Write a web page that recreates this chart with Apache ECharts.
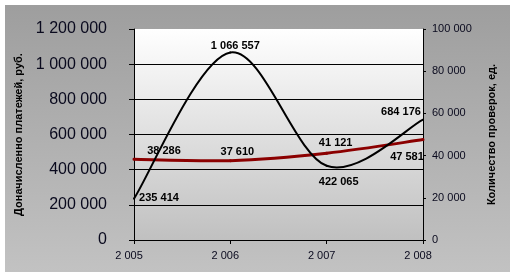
<!DOCTYPE html>
<html>
<head>
<meta charset="utf-8">
<script src="https://cdn.jsdelivr.net/npm/echarts@6/dist/echarts.min.js"></script>
<style>
html,body{margin:0;padding:0;background:#fff;}
#chart{width:517px;height:278px;}
</style>
</head>
<body>
<div id="chart"></div>
<script>
// ---- data ----
const years = ['2 005', '2 006', '2 007', '2 008'];
const accruedPayments = [235414, 1066557, 422065, 684176];
const inspectionsCount = [38286, 37610, 41121, 47581];
const leftAxisTitle = 'Доначисленно платежей, руб.';
const rightAxisTitle = 'Количество проверок, ед.';
const leftAxisRange = [0, 1200000, 200000];
const rightAxisRange = [0, 100000, 20000];

// ---- label placement (style) ----
const accruedLabelOffsets = [[25, -1], [5, -6], [12, 16], [-22, -8]];
const inspectionsLabelOffsets = [[30, -8], [7, -9], [9, -10], [-16, 17]];

function fmt(v) {
  return String(Math.round(v)).replace(/\B(?=(\d{3})+(?!\d))/g, ' ');
}

const FONT = '"Liberation Sans", Arial, sans-serif';
const chart = echarts.init(document.getElementById('chart'), null, {renderer: 'canvas'});

const labelBase = {
  show: true,
  position: 'inside',
  fontFamily: FONT,
  fontSize: 11,
  fontWeight: 'bold',
  color: '#000',
  formatter: p => fmt(p.value)
};

// Excel-style smoothed segment (Catmull-Rom, tension 1/6), through the axis scales
function smoothSegment(values, color, width) {
  return function (params, api) {
    const i = params.dataIndex;
    if (i >= values.length - 1) return null;
    const P = k => {
      const kk = Math.max(0, Math.min(values.length - 1, k));
      return api.coord([kk, values[kk]]);
    };
    const p0 = P(i - 1), p1 = P(i), p2 = P(i + 1), p3 = P(i + 2);
    return {
      type: 'bezierCurve',
      shape: {
        x1: p1[0], y1: p1[1],
        cpx1: p1[0] + (p2[0] - p0[0]) / 6, cpy1: p1[1] + (p2[1] - p0[1]) / 6,
        cpx2: p2[0] - (p3[0] - p1[0]) / 6, cpy2: p2[1] - (p3[1] - p1[1]) / 6,
        x2: p2[0], y2: p2[1]
      },
      style: {stroke: color, lineWidth: width, fill: null, lineCap: 'round'}
    };
  };
}

chart.setOption({
  animation: false,
  backgroundColor: '#fff',
  graphic: {
    elements: [{
      type: 'rect',
      z: -100,
      silent: true,
      shape: {x: 5, y: 5, width: 505, height: 267},
      style: {
        fill: new echarts.graphic.LinearGradient(0, 0, 0, 1, [
          {offset: 0, color: '#9e9e9e'},
          {offset: 1, color: '#c2c2c2'}
        ])
      }
    }]
  },
  grid: {
    left: 134, top: 29, right: 94, bottom: 38,
    show: true,
    borderWidth: 0,
    backgroundColor: new echarts.graphic.LinearGradient(0, 0, 0, 1, [
      {offset: 0, color: '#ffffff'},
      {offset: 1, color: '#c0c0c0'}
    ])
  },
  xAxis: {
    type: 'category',
    data: years,
    boundaryGap: false,
    axisLine: {lineStyle: {color: '#000', width: 1}},
    axisTick: {show: true, alignWithLabel: true, length: 4, lineStyle: {color: '#000'}},
    axisLabel: {fontFamily: FONT, fontSize: 11, color: '#0a0a1e', margin: 10, padding: [0, 10, 0, 0]},
    splitLine: {show: false}
  },
  yAxis: [{
    type: 'value',
    min: leftAxisRange[0], max: leftAxisRange[1], interval: leftAxisRange[2],
    name: leftAxisTitle,
    nameLocation: 'middle',
    nameRotate: 90,
    nameGap: 106,
    nameTextStyle: {fontFamily: FONT, fontSize: 11, fontWeight: 'bold', color: '#000'},
    axisLine: {show: true, lineStyle: {color: '#000', width: 1}},
    axisTick: {show: true, length: 5, lineStyle: {color: '#000'}},
    axisLabel: {fontFamily: FONT, fontSize: 16, color: '#0a0a1e', margin: 27, formatter: v => fmt(v)},
    splitLine: {show: true, lineStyle: {color: ['#000', '#000', '#000', '#000', '#000', '#000', 'transparent'], width: 1}}
  }, {
    type: 'value',
    position: 'right',
    min: rightAxisRange[0], max: rightAxisRange[1], interval: rightAxisRange[2],
    name: rightAxisTitle,
    nameLocation: 'middle',
    nameRotate: 90,
    nameGap: 63,
    nameTextStyle: {fontFamily: FONT, fontSize: 11, fontWeight: 'bold', color: '#000'},
    axisLine: {show: true, lineStyle: {color: '#000', width: 1}},
    axisTick: {show: true, length: 3, lineStyle: {color: '#000'}},
    axisLabel: {fontFamily: FONT, fontSize: 11, color: '#0a0a1e', margin: 9, formatter: v => fmt(v)},
    splitLine: {show: false}
  }],
  series: [{
    name: rightAxisTitle + ' curve',
    type: 'custom',
    yAxisIndex: 1,
    renderItem: smoothSegment(inspectionsCount, '#8b0000', 3),
    data: inspectionsCount.map((v, i) => [i, v]),
    z: 2
  }, {
    name: leftAxisTitle + ' curve',
    type: 'custom',
    yAxisIndex: 0,
    renderItem: smoothSegment(accruedPayments, '#000', 2),
    data: accruedPayments.map((v, i) => [i, v]),
    z: 3
  }, {
    name: rightAxisTitle,
    type: 'line',
    yAxisIndex: 1,
    symbol: 'circle',
    symbolSize: 1,
    itemStyle: {color: 'transparent'},
    lineStyle: {opacity: 0, width: 0},
    label: labelBase,
    z: 4,
    data: inspectionsCount.map((v, i) => ({value: v, label: {offset: inspectionsLabelOffsets[i]}}))
  }, {
    name: leftAxisTitle,
    type: 'line',
    yAxisIndex: 0,
    symbol: 'circle',
    symbolSize: 1,
    itemStyle: {color: 'transparent'},
    lineStyle: {opacity: 0, width: 0},
    label: labelBase,
    z: 4,
    data: accruedPayments.map((v, i) => ({value: v, label: {offset: accruedLabelOffsets[i]}}))
  }]
});
</script>
</body>
</html>
